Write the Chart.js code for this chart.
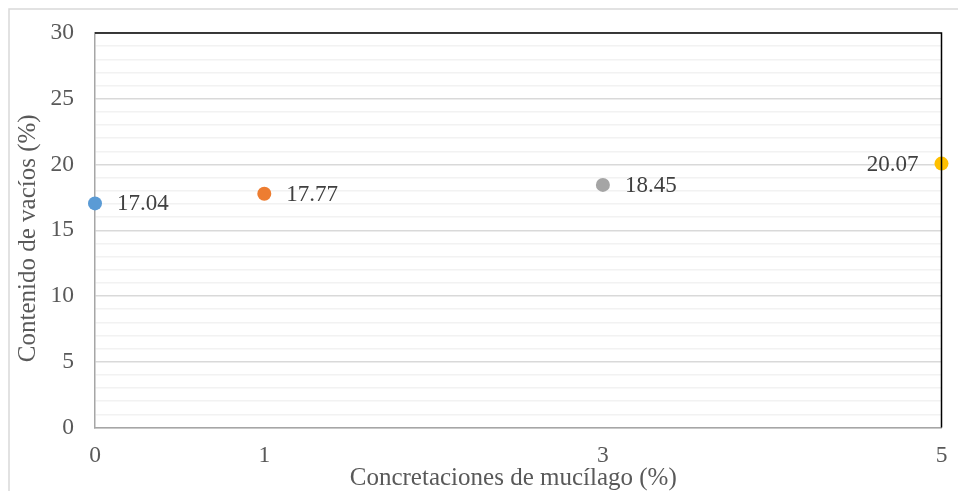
<!DOCTYPE html>
<html>
<head>
<meta charset="utf-8">
<script src="https://cdn.jsdelivr.net/npm/chart.js@4/dist/chart.umd.min.js"></script>
<style>
  html, body { margin: 0; padding: 0; background: #ffffff; }
  #c { display: block; }
</style>
</head>
<body>
<canvas id="c" width="958" height="491"></canvas>
<script>
// Mucilage concretion content (%) and measured void content (%)
const mucilagePct = [0, 1, 3, 5];
const voidContent = [17.04, 17.77, 18.45, 20.07];
const pointColors = ['#5B9BD5', '#ED7D31', '#A5A5A5', '#FFC000'];
const xTickValues = [0, 1, 3, 5];
const yMajorStep = 5;
const xTitle = 'Concretaciones de mucílago (%)';
const yTitle = 'Contenido de vacíos (%)';

const serif = "'Liberation Serif', 'Times New Roman', serif";

// Light frame around the whole chart
const outerFrame = {
  id: 'outerFrame',
  beforeDraw(chart) {
    const ctx = chart.ctx;
    ctx.save();
    ctx.fillStyle = '#ffffff';
    ctx.fillRect(0, 0, chart.width, chart.height);
    ctx.strokeStyle = '#d9d9d9';
    ctx.lineWidth = 1.5;
    ctx.strokeRect(9, 9, chart.width + 10, chart.height + 10);
    ctx.restore();
  }
};

// Dark top and right edges of the plot area
const plotEdges = {
  id: 'plotEdges',
  afterDraw(chart) {
    const { left, right, top, bottom } = chart.chartArea;
    const ctx = chart.ctx;
    ctx.save();
    ctx.strokeStyle = '#000000';
    ctx.lineWidth = 1.5;
    ctx.beginPath();
    ctx.moveTo(left, top);
    ctx.lineTo(right, top);
    ctx.lineTo(right, bottom);
    ctx.stroke();
    ctx.restore();
  }
};

// Axis titles, placed relative to the plot area
const axisTitles = {
  id: 'axisTitles',
  afterDraw(chart) {
    const { left, right, top, bottom } = chart.chartArea;
    const ctx = chart.ctx;
    ctx.save();
    ctx.font = '25px ' + serif;
    ctx.fillStyle = '#595959';
    ctx.textAlign = 'center';
    ctx.textBaseline = 'middle';
    ctx.fillText(xTitle, (left + right) / 2 - 5, bottom + 51);
    ctx.translate(28, (top + bottom) / 2 + 8);
    ctx.rotate(-Math.PI / 2);
    ctx.fillText(yTitle, 0, 0);
    ctx.restore();
  }
};

// Value labels next to each point
const valueLabels = {
  id: 'valueLabels',
  afterDatasetsDraw(chart) {
    const ctx = chart.ctx;
    const meta = chart.getDatasetMeta(0);
    const last = meta.data.length - 1;
    ctx.save();
    ctx.font = '23px ' + serif;
    ctx.fillStyle = '#404040';
    ctx.textBaseline = 'middle';
    meta.data.forEach((pt, i) => {
      const text = voidContent[i].toFixed(2);
      if (i === last) {
        ctx.textAlign = 'right';
        ctx.fillText(text, pt.x - 23, pt.y + 1);
      } else {
        ctx.textAlign = 'left';
        ctx.fillText(text, pt.x + 22, pt.y + 1);
      }
    });
    ctx.restore();
  }
};

new Chart(document.getElementById('c'), {
  type: 'scatter',
  data: {
    datasets: [{
      data: mucilagePct.map((x, i) => ({ x: x, y: voidContent[i] })),
      pointBackgroundColor: pointColors,
      pointBorderWidth: 0,
      pointRadius: 7,
      pointHoverRadius: 7,
      clip: false
    }]
  },
  options: {
    responsive: false,
    animation: false,
    events: [],
    layout: { autoPadding: false, padding: { left: 0, top: 33, right: 16.5, bottom: 0 } },
    plugins: {
      legend: { display: false },
      tooltip: { enabled: false }
    },
    scales: {
      x: {
        type: 'linear',
        min: 0,
        max: 5,
        afterBuildTicks: (scale) => { scale.ticks = xTickValues.map(v => ({ value: v })); },
        afterFit: (scale) => {
          scale.height = 63.5;
          scale.paddingLeft = 0;
          scale.paddingRight = 0;
        },
        grid: { display: true, drawOnChartArea: false, drawTicks: false },
        border: { display: true, color: '#a6a6a6', width: 1.5 },
        ticks: {
          autoSkip: false,
          maxRotation: 0,
          padding: 14,
          color: '#595959',
          font: { family: serif, size: 23.5 }
        }
      },
      y: {
        min: 0,
        max: 30,
        afterFit: (scale) => {
          scale.width = 95;
          scale.paddingTop = 0;
          scale.paddingBottom = 0;
        },
        grid: {
          drawTicks: false,
          color: (ctx) => (ctx.tick && ctx.tick.value % yMajorStep === 0) ? '#d9d9d9' : '#f2f2f2',
          lineWidth: 1.5
        },
        border: { display: true, color: '#a6a6a6', width: 1.5 },
        ticks: {
          stepSize: 1,
          autoSkip: false,
          padding: 21,
          color: '#595959',
          font: { family: serif, size: 23.5 },
          callback: (v) => (v % yMajorStep === 0 ? String(v) : '')
        }
      }
    }
  },
  plugins: [outerFrame, plotEdges, axisTitles, valueLabels]
});
</script>
</body>
</html>
